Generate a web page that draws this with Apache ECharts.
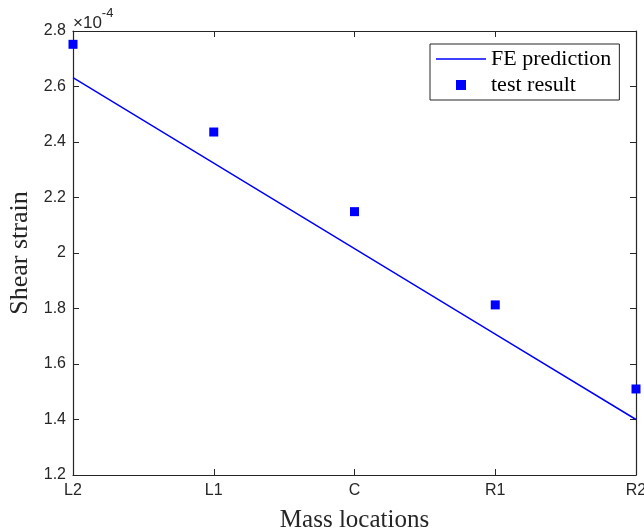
<!DOCTYPE html>
<html><head><meta charset="utf-8">
<script src="https://cdn.jsdelivr.net/npm/echarts@6/dist/echarts.min.js"></script>
<style>html,body{margin:0;padding:0;background:#fff}#c{width:644px;height:532px}</style>
</head><body><div id="c"></div>
<script>
// values in units of 1e-4
const categories = ['L2', 'L1', 'C', 'R1', 'R2'];
const fePrediction = [2.632, 2.324, 2.016, 1.708, 1.400];
const testResult = [2.752, 2.436, 2.149, 1.813, 1.510];
const yTicks = [1.2, 1.4, 1.6, 1.8, 2.0, 2.2, 2.4, 2.6, 2.8];

const axisColor = '#262626';
const chart = echarts.init(document.getElementById('c'));
const sans = 'Liberation Sans';
const serif = 'Liberation Serif';
chart.setOption({
  animation: false,
  grid: {left: 73, right: 8, top: 31, bottom: 57, containLabel: false, outerBoundsMode: 'none'},
  legend: {
    orient: 'vertical', left: 430, top: 44,
    padding: [4, 8, 4, 6], itemGap: 4,
    borderColor: axisColor, borderWidth: 1, backgroundColor: '#fff',
    itemWidth: 50, itemHeight: 10, symbolKeepAspect: true,
    textStyle: {fontFamily: serif, fontSize: 22, color: '#000'},
    data: [
      {name: 'FE prediction', icon: 'path://M0 0H50V1.5H0Z'},
      {name: 'test result', icon: 'path://M0 0H1V1H0Z'}
    ]
  },
  xAxis: [{
    type: 'category', data: categories, boundaryGap: false, position: 'bottom',
    name: 'Mass locations', nameLocation: 'middle', nameGap: 33,
    nameTextStyle: {fontFamily: serif, fontSize: 25, color: axisColor},
    axisLine: {lineStyle: {color: axisColor, width: 1.2}},
    axisTick: {inside: true, length: 6, lineStyle: {color: axisColor}},
    axisLabel: {fontFamily: sans, fontSize: 16, color: axisColor, margin: 8},
    splitLine: {show: false}
  }, {
    type: 'category', data: categories, boundaryGap: false, position: 'top',
    axisLine: {lineStyle: {color: axisColor, width: 1.2}},
    axisTick: {inside: true, length: 6, lineStyle: {color: axisColor}},
    axisLabel: {show: false}, splitLine: {show: false}
  }],
  yAxis: [{
    type: 'value', min: 1.2, max: 2.8, interval: 0.2, position: 'left',
    name: 'Shear strain', nameLocation: 'middle', nameGap: 40,
    nameTextStyle: {fontFamily: serif, fontSize: 26, color: axisColor},
    axisLine: {show: true, lineStyle: {color: axisColor, width: 1.2}},
    axisTick: {show: true, inside: true, length: 6, lineStyle: {color: axisColor}},
    axisLabel: {fontFamily: sans, fontSize: 16, color: axisColor, margin: 7,
      formatter: v => { const t = yTicks.find(x => Math.abs(x - v) < 1e-6); return t === 2 ? '2' : (t !== undefined ? t.toFixed(1) : ''); }},
    splitLine: {show: false}
  }, {
    type: 'value', min: 1.2, max: 2.8, interval: 0.2, position: 'right',
    axisLine: {show: true, lineStyle: {color: axisColor, width: 1.2}},
    axisTick: {show: true, inside: true, length: 6, lineStyle: {color: axisColor}},
    axisLabel: {show: false}, splitLine: {show: false}
  }],
  graphic: [{
    type: 'text', left: 73, top: 7,
    style: {
      text: '{a|×10}{b|-4}',
      rich: {
        a: {fontFamily: sans, fontSize: 17, fill: axisColor, padding: [8, 0, 0, 0]},
        b: {fontFamily: sans, fontSize: 13, fill: axisColor, verticalAlign: 'top', padding: [0, 0, 8, 0]}
      }
    }
  }],
  series: [{
    name: 'FE prediction', type: 'line', data: fePrediction,
    symbol: 'none', lineStyle: {color: '#0000ff', width: 1.5}, itemStyle: {color: '#0000ff'},
    z: 2
  }, {
    name: 'test result', type: 'scatter', data: testResult,
    symbol: 'rect', symbolSize: 9, itemStyle: {color: '#0000ff', opacity: 1}, z: 3
  }]
});
</script></body></html>
